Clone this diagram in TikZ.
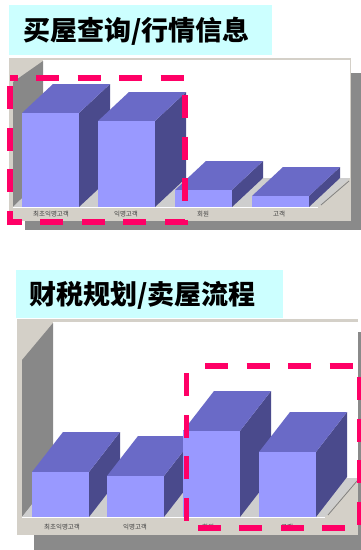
\documentclass[tikz,border=0pt]{standalone}
\usepackage{fontspec}
\newfontfamily\cjk{Noto Sans CJK SC}
\newfontfamily\kr{Noto Sans CJK KR}
\definecolor{xanhnhat}{RGB}{204,255,255}
\definecolor{khung}{RGB}{212,208,200}
\definecolor{bong}{RGB}{138,138,138}
\definecolor{tuong}{RGB}{136,136,136}
\definecolor{san}{RGB}{206,206,206}
\definecolor{truoc}{RGB}{153,153,255}
\definecolor{noc}{RGB}{106,106,199}
\definecolor{ben}{RGB}{74,74,140}
\definecolor{hong}{RGB}{255,0,102}
\begin{document}
\begin{tikzpicture}[x=1pt,y=-1pt,
	tieude/.style={font=\cjk\bfseries\fontsize{27}{30}\selectfont,inner sep=0pt},
	nhan/.style={font=\kr\fontsize{6.5}{7}\selectfont,text=black!75,inner sep=0pt},
	netdut/.style={draw=hong,line width=5.5pt,dash pattern=on 23pt off 18.5pt}]
	\useasboundingbox (0,0) rectangle (361,550);
	% khoi hop 3D: #1 x trai, #2 y dinh, #3 y day, #4 do sau
	\def\khoi#1#2#3#4{
		\fill[ben] (#1+57,#2) -- (#1+88,#2-#4) -- (#1+88,#3-#4) -- (#1+57,#3) -- cycle;
		\fill[noc] (#1,#2) -- (#1+31,#2-#4) -- (#1+88,#2-#4) -- (#1+57,#2) -- cycle;
		\fill[truoc] (#1,#2) rectangle (#1+57,#3);}
	% bieu do tren
	\fill[xanhnhat] (9,5) rectangle (272,55);
	\node[tieude] (tieude1) at (136.5,31.5) {买屋查询/行情信息};
	\fill[bong] (25,73) rectangle (361,230);
	\fill[khung] (9,58) rectangle (351,221);
	\fill[white] (43,60) rectangle (350,178);
	\fill[tuong] (13,82) -- (43,61) -- (43,178) -- (13,207) -- cycle;
	\fill[san] (13,207) -- (43,178) -- (350,178) -- (318,207) -- cycle;
	\draw[gray,line width=0.8pt] (321,205) -- (349,181);
	\draw[white,line width=1.5pt] (13,207.5) -- (318,207.5);
	\khoi{22}{113}{207}{29}
	\khoi{98}{121}{207}{29}
	\khoi{175}{190}{207}{29}
	\khoi{252}{196}{207}{29}
	\node[nhan] (a1) at (51,214) {최초익명고객};
	\node[nhan] (a2) at (126,214) {익명고객};
	\node[nhan] (a3) at (203,214) {회원};
	\node[nhan] (a4) at (279,214) {고객};
	\draw[netdut,dash phase=15.5pt] (10,78) -- (185,78) -- (185,222) -- (10,222) -- cycle;
	% bieu do duoi
	\fill[xanhnhat] (16,270) rectangle (283,318);
	\node[tieude] (tieude2) at (142.5,295) {财税规划/卖屋流程};
	\fill[bong] (34,332) rectangle (361,550);
	\fill[khung] (17,319) rectangle (358,535);
	\fill[white] (53,322) rectangle (358,478);
	\fill[tuong] (22,360) -- (53,323) -- (53,478) -- (22,517) -- cycle;
	\fill[san] (22,517) -- (53,478) -- (358,478) -- (325,517) -- cycle;
	\draw[gray,line width=0.8pt] (328,515) -- (357,481);
	\draw[white,line width=1.5pt] (22,517.5) -- (325,517.5);
	\khoi{32}{472}{517}{40}
	\khoi{107}{476}{517}{40}
	\khoi{183}{431}{517}{40}
	\khoi{259}{452}{517}{40}
	\node[nhan] (b1) at (62,527) {최초익명고객};
	\node[nhan] (b2) at (135,527) {익명고객};
	\node[nhan] (b3) at (208,527) {회원};
	\node[nhan] (b4) at (287,527) {고객};
	\draw[netdut,dash phase=23pt] (186.5,366) -- (360,366) -- (360,528) -- (186.5,528) -- cycle;
\end{tikzpicture}
\end{document}
